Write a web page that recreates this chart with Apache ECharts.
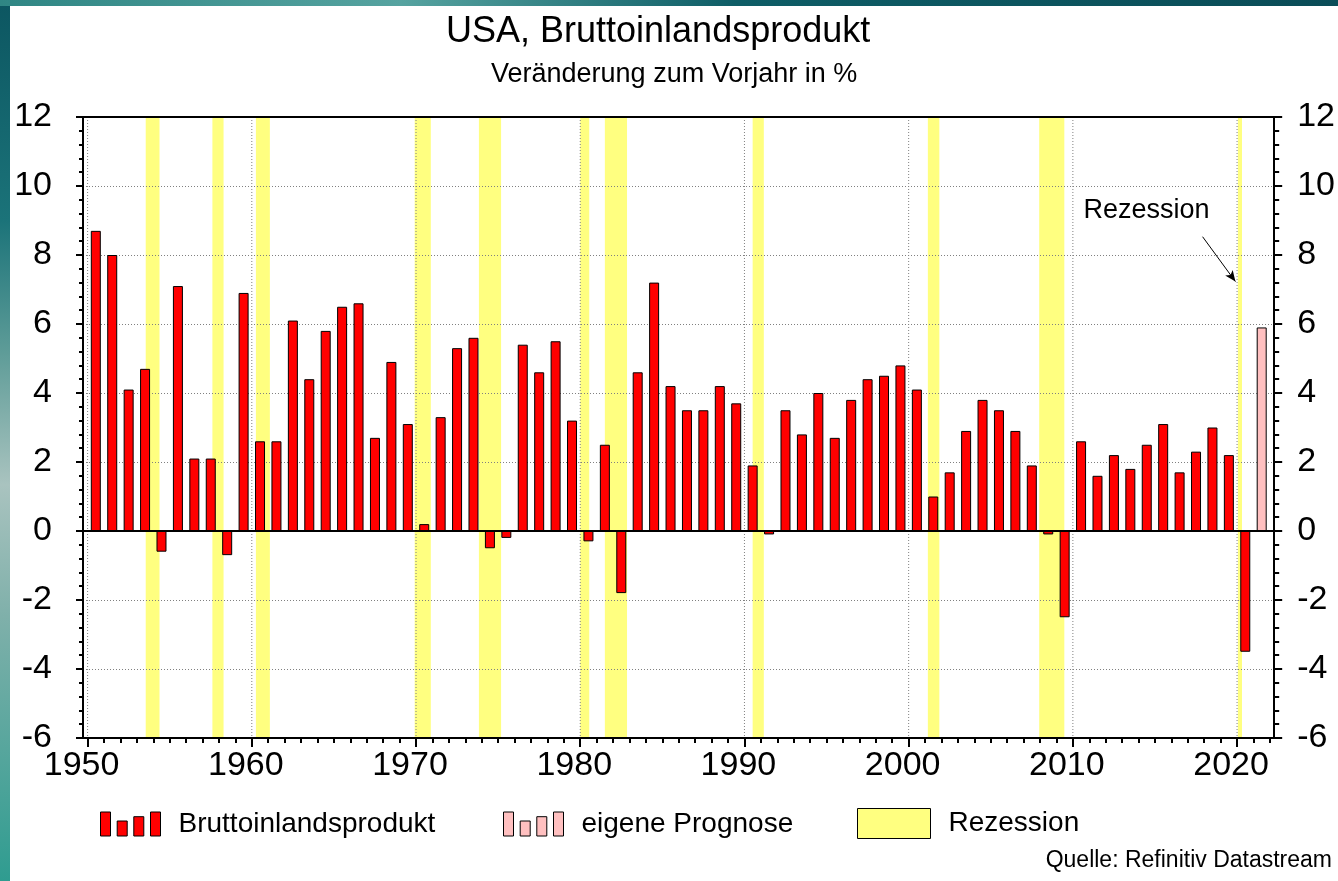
<!DOCTYPE html>
<html>
<head>
<meta charset="utf-8">
<script src="https://cdn.jsdelivr.net/npm/echarts@6/dist/echarts.min.js"></script>
<style>
  html, body { margin:0; padding:0; width:1338px; height:881px; overflow:hidden; }
  body { background: linear-gradient(to bottom, #0c5661 0%, #1b7379 25%, #5e9c98 40%, #a9c3bf 55%, #7fb0aa 70%, #2f9c90 100%); position:relative; }
  #topband { position:absolute; left:0; top:0; width:1338px; height:6px; background: linear-gradient(to right, #2f8684 0%, #56a3a0 30%, #0e5d66 55%, #0a4c57 100%); }
  #panel { position:absolute; left:10px; top:6px; width:1328px; height:875px; background:#ffffff; }
  #chart { position:absolute; left:0; top:0; width:1338px; height:881px; }
</style>
</head>
<body>
<div id="topband"></div>
<div id="panel"></div>
<div id="chart"></div>
<script>
// ---- data ----
const years = [1950,1951,1952,1953,1954,1955,1956,1957,1958,1959,
               1960,1961,1962,1963,1964,1965,1966,1967,1968,1969,
               1970,1971,1972,1973,1974,1975,1976,1977,1978,1979,
               1980,1981,1982,1983,1984,1985,1986,1987,1988,1989,
               1990,1991,1992,1993,1994,1995,1996,1997,1998,1999,
               2000,2001,2002,2003,2004,2005,2006,2007,2008,2009,
               2010,2011,2012,2013,2014,2015,2016,2017,2018,2019,
               2020];
const gdp = [8.7,8.0,4.1,4.7,-0.6,7.1,2.1,2.1,-0.7,6.9,
             2.6,2.6,6.1,4.4,5.8,6.5,6.6,2.7,4.9,3.1,
             0.2,3.3,5.3,5.6,-0.5,-0.2,5.4,4.6,5.5,3.2,
             -0.3,2.5,-1.8,4.6,7.2,4.2,3.5,3.5,4.2,3.7,
             1.9,-0.1,3.5,2.8,4.0,2.7,3.8,4.4,4.5,4.8,
             4.1,1.0,1.7,2.9,3.8,3.5,2.9,1.9,-0.1,-2.5,
             2.6,1.6,2.2,1.8,2.5,3.1,1.7,2.3,3.0,2.2,
             -3.5];
const forecastYears = [2021];
const forecast = [5.9];
// recession periods (decimal years: start, end)
const recessionStart = [1953.54,1957.6,1960.25,1969.92,1973.83,1980.0,1981.5,1990.5,2001.17,2007.95,2020.05];
const recessionEnd   = [1954.38,1958.28,1961.1,1970.9,1975.18,1980.55,1982.85,1991.18,2001.87,2009.48,2020.3];
const decadeTicks = [1950,1960,1970,1980,1990,2000,2010,2020];
const yTicksMin = -6, yTicksMax = 12, yStep = 2;
const xMin = 1949.72, xMax = 2022.26;
const seriesNames = ['Bruttoinlandsprodukt','eigene Prognose','Rezession'];
const titleText = 'USA, Bruttoinlandsprodukt';
const subtitleText = 'Veränderung zum Vorjahr in %';
const sourceText = 'Quelle: Refinitiv Datastream';
const annotationText = 'Rezession';
const annotationArrow = [[2017.9, 8.53],[2019.9, 7.23]];
const annotationLabelAt = [2014.48, 9.28];

// ---- derived ----
const yearTicks = [];
for (let y = 1950; y <= 2022; y++) yearTicks.push(y);
const barData = years.map((y,i)=>[y+0.5, gdp[i]]);
const fcData = forecastYears.map((y,i)=>[y+0.5, forecast[i]]);
const recData = recessionStart.map((s,i)=>[s, recessionEnd[i], 0]);
const gridData = decadeTicks.map(d=>[d, 0]);

const FONT = "'Liberation Sans', Arial, Helvetica, sans-serif";
const barsIcon = 'path://M0,0h10v24h-10z M16.7,9h10v15h-10z M33.3,4.7h10v19.3h-10z M50,0h10v24h-10z';
const LEGEND_FS = 28;

const chart = echarts.init(document.getElementById('chart'), null, {renderer:'canvas'});

const yAxisBase = {
  type:'value', min:yTicksMin, max:yTicksMax, interval:yStep, z:1.5,
  axisLine:{show:true, onZero:false, lineStyle:{color:'#000', width:2}},
  axisTick:{show:true, inside:false, length:7, lineStyle:{color:'#000', width:2}},
  minorTick:{show:true, splitNumber:5, length:4, lineStyle:{color:'#000', width:2}},
  axisLabel:{color:'#000', fontSize:34, fontFamily:FONT},
};

function legendText() {
  return {color:'#000', fontSize:LEGEND_FS, fontFamily:FONT,
          rich:{t:{fontSize:LEGEND_FS, fontFamily:FONT, color:'#000', padding:[0,0,0,13]}}};
}

const option = {
  animation:false,
  backgroundColor:'transparent',
  title:[
    {text:titleText, left:446, top:14, padding:0,
     textStyle:{fontSize:36, fontWeight:'normal', color:'#000', fontFamily:FONT}},
    {text:subtitleText, left:491, top:61, padding:0,
     textStyle:{fontSize:27, fontWeight:'normal', color:'#000', fontFamily:FONT}},
    {text:sourceText, right:6, top:849, padding:0,
     textStyle:{fontSize:23, fontWeight:'normal', color:'#000', fontFamily:FONT}}
  ],
  legend:[
    {left:100, top:810, padding:0, itemWidth:60, itemHeight:24, selectedMode:false,
     data:[{name:seriesNames[0], icon:barsIcon}],
     itemStyle:{borderColor:'#000', borderWidth:1},
     formatter:'{t|{name}}', textStyle:legendText()},
    {left:503, top:810, padding:0, itemWidth:60, itemHeight:24, selectedMode:false,
     data:[{name:seriesNames[1], icon:barsIcon}],
     itemStyle:{borderColor:'#000', borderWidth:1},
     formatter:'{t|{name}}', textStyle:legendText()},
    {left:857, top:808, padding:0, itemWidth:73, itemHeight:30, selectedMode:false,
     data:[{name:seriesNames[2], icon:'rect'}],
     itemStyle:{color:'#ffff80', borderColor:'#000', borderWidth:1},
     formatter:'{t|{name}}', textStyle:legendText()}
  ],
  grid:{left:83, right:58, top:117, bottom:143, containLabel:false},
  xAxis:[
    {type:'value', min:xMin, max:xMax, position:'bottom', z:3,
     axisLine:{show:true, onZero:false, lineStyle:{color:'#000', width:2}},
     axisTick:{show:true, customValues:decadeTicks, length:9, lineStyle:{color:'#000', width:2}},
     axisLabel:{show:true, customValues:decadeTicks, color:'#000', fontSize:34, fontFamily:FONT, margin:11,
                padding:[0,12,0,0], formatter:(v)=>String(Math.round(v))},
     splitLine:{show:false}},
    {type:'value', min:xMin, max:xMax, position:'bottom', z:3,
     axisLine:{show:false, onZero:false},
     axisTick:{show:true, customValues:yearTicks, length:5, lineStyle:{color:'#000', width:2}},
     axisLabel:{show:false},
     splitLine:{show:false}},
    {type:'value', min:xMin, max:xMax, position:'top', z:3,
     axisLine:{show:true, onZero:false, lineStyle:{color:'#000', width:2}},
     axisTick:{show:false}, axisLabel:{show:false}, splitLine:{show:false}}
  ],
  yAxis:[
    Object.assign({}, yAxisBase, {position:'left',
      axisLabel:Object.assign({}, yAxisBase.axisLabel, {margin:31}),
      splitLine:{show:true, lineStyle:{color:'#808080', width:1, type:[1,2]}}}),
    Object.assign({}, yAxisBase, {position:'right',
      axisTick:Object.assign({}, yAxisBase.axisTick, {length:8}),
      minorTick:Object.assign({}, yAxisBase.minorTick, {length:5}),
      axisLabel:Object.assign({}, yAxisBase.axisLabel, {margin:23}),
      splitLine:{show:false}})
  ],
  series:[
    {
      name:seriesNames[2], type:'custom', xAxisIndex:0, yAxisIndex:0, z:1,
      itemStyle:{color:'#ffff80'},
      encode:{x:[0,1], y:2},
      data:recData,
      silent:true,
      renderItem:function(params, api){
        const a = api.coord([api.value(0), yTicksMax]);
        const b = api.coord([api.value(1), yTicksMin]);
        return {type:'rect', shape:{x:a[0], y:a[1], width:b[0]-a[0], height:b[1]-a[1]},
                style:{fill:'#ffff80'}};
      }
    },
    {
      name:'grid-x', type:'custom', xAxisIndex:0, yAxisIndex:0, z:1.5,
      encode:{x:0, y:1},
      data:gridData,
      silent:true,
      renderItem:function(params, api){
        const a = api.coord([api.value(0), yTicksMax]);
        const b = api.coord([api.value(0), yTicksMin]);
        return {type:'line', shape:{x1:a[0], y1:a[1], x2:b[0], y2:b[1]},
                style:{stroke:'#808080', lineWidth:1, lineDash:[1,2]}};
      }
    },
    {
      name:seriesNames[0], type:'bar', xAxisIndex:0, yAxisIndex:0, z:2,
      barWidth:10, barGap:'-100%',
      itemStyle:{color:'#ff0000', borderColor:'#000', borderWidth:1},
      data:barData,
      markLine:{
        silent:true, symbol:['none','none'], label:{show:false},
        lineStyle:{color:'#000', width:2, type:'solid'},
        data:[{yAxis:0}]
      }
    },
    {
      name:seriesNames[1], type:'bar', xAxisIndex:0, yAxisIndex:0, z:2,
      barWidth:10, barGap:'-100%',
      itemStyle:{color:'#ffc0c0', borderColor:'#000', borderWidth:1},
      data:fcData,
      markLine:{
        silent:true, symbol:['none','arrow'], symbolSize:[7,11], label:{show:false},
        lineStyle:{color:'#000', width:1, type:'solid'},
        data:[[{coord:annotationArrow[0]},{coord:annotationArrow[1]}]]
      },
      markPoint:{
        silent:true, symbol:'circle', symbolSize:1,
        itemStyle:{color:'transparent'},
        label:{show:true, position:'inside', formatter:annotationText, color:'#000', fontSize:27, fontFamily:FONT},
        data:[{coord:annotationLabelAt}]
      }
    }
  ]
};
chart.setOption(option);
</script>
</body>
</html>
